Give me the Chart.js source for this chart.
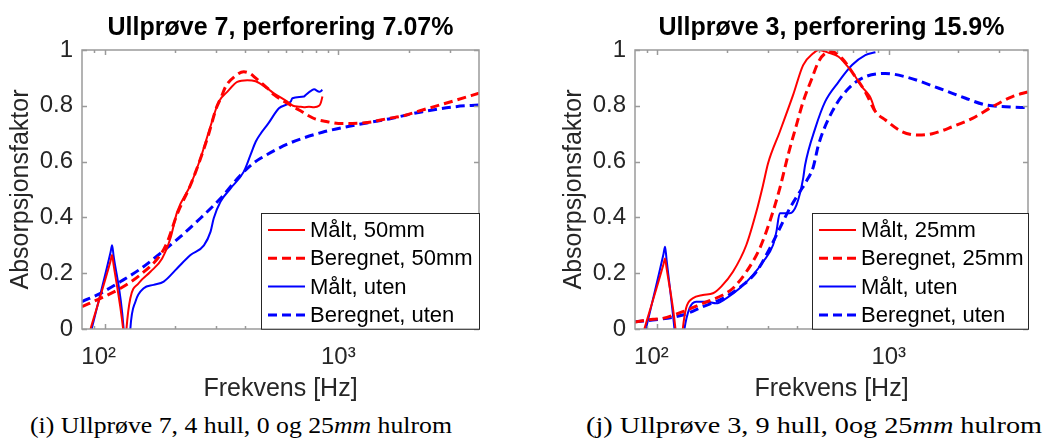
<!DOCTYPE html>
<html>
<head>
<meta charset="utf-8">
<script src="https://cdn.jsdelivr.net/npm/chart.js@4.4.0/dist/chart.umd.min.js"></script>
<style>
html, body { margin: 0; padding: 0; background: #fff; }
#wrap { position: relative; width: 1057px; height: 446px; overflow: hidden; background: #fff; }
canvas { position: absolute; top: 0; }
#c1 { left: 0; }
#c2 { left: 530px; }
.cap { position: absolute; top: 414px; font-family: "Liberation Serif", "Times New Roman", serif; font-size: 23px; line-height: 23px; color: #000; white-space: nowrap; transform-origin: 0 50%; }
#cap1 { left: 30px; }
#cap2 { left: 586px; }
</style>
</head>
<body>
<div id="wrap">
  <canvas id="c1" width="528" height="405"></canvas>
  <canvas id="c2" width="527" height="405"></canvas>
  <div class="cap" id="cap1">(i) Ullprøve 7, 4 hull, 0 og 25<i>mm</i> hulrom</div>
  <div class="cap" id="cap2">(j) Ullprøve 3, 9 hull, 0og 25<i>mm</i> hulrom</div>
</div>
<script>
// ---------- Data (frequency in Hz, absorption factor) ----------
// Left panel: Ullprøve 7, perforering 7.07%
const leftTitle = 'Ullprøve 7, perforering 7.07%';
const leftLabels = ['Målt, 50mm', 'Beregnet, 50mm', 'Målt, uten', 'Beregnet, uten'];

const leftMaalt50Freq = [87, 106, 107.6, 109.2, 120, 121.5, 123, 124, 128.8, 139.8, 157, 176.2, 191.2, 204.3, 232.9, 257.2, 279.1, 308.1, 334.6, 369.4, 407.8, 442.6, 497, 530, 605, 640, 679, 713, 749, 787, 827, 841, 855];
const leftMaalt50Val  = [0, 0.244, 0.265, 0.231, 0, -0.05, -0.05, 0, 0.11, 0.164, 0.205, 0.253, 0.325, 0.42, 0.516, 0.612, 0.707, 0.815, 0.85, 0.886, 0.892, 0.888, 0.862, 0.845, 0.815, 0.800, 0.797, 0.795, 0.797, 0.795, 0.800, 0.810, 0.833];

const leftBer50Freq = [80, 96, 117, 142, 173, 185, 204, 233, 257, 279, 300, 315, 330, 360, 394, 420, 442, 497, 530, 605, 679, 737, 800, 898, 1000, 1149, 1333, 1649, 1851, 2293, 2572, 3186, 4000];
const leftBer50Val  = [0.08, 0.11, 0.146, 0.194, 0.265, 0.31, 0.41, 0.516, 0.61, 0.70, 0.79, 0.83, 0.87, 0.905, 0.922, 0.915, 0.90, 0.863, 0.84, 0.809, 0.785, 0.767, 0.752, 0.743, 0.737, 0.737, 0.74, 0.755, 0.762, 0.785, 0.797, 0.82, 0.845];

const leftMaaltUtenFreq = [88, 106, 107.6, 109.2, 120.6, 121.5, 128, 128.8, 135.4, 147, 162, 179, 204, 233, 266, 284, 293, 313, 346, 394, 421, 443, 465, 500, 557, 625, 636, 713, 725, 775, 787, 830, 855];
const leftMaaltUtenVal  = [0, 0.275, 0.30, 0.263, 0, -0.05, -0.05, 0, 0.098, 0.146, 0.158, 0.17, 0.217, 0.265, 0.30, 0.349, 0.397, 0.456, 0.504, 0.564, 0.624, 0.671, 0.70, 0.735, 0.791, 0.815, 0.827, 0.833, 0.839, 0.857, 0.859, 0.85, 0.857];

const leftBerUtenFreq = [80, 96, 117, 142, 173, 211, 257, 313, 382, 442, 465, 615, 855, 1187, 1649, 2293, 3186, 4000];
const leftBerUtenVal  = [0.098, 0.128, 0.17, 0.215, 0.271, 0.331, 0.397, 0.468, 0.552, 0.60, 0.612, 0.665, 0.705, 0.731, 0.753, 0.779, 0.797, 0.803];

// Right panel: Ullprøve 3, perforering 15.9%
const rightTitle = 'Ullprøve 3, perforering 15.9%';
const rightLabels = ['Målt, 25mm', 'Beregnet, 25mm', 'Målt, uten', 'Beregnet, uten'];

const rightMaalt25Freq = [87.8, 106.3, 107.9, 109.5, 119.7, 121, 127, 128.7, 133, 142.2, 157.2, 173.8, 188.7, 212.1, 242.3, 267.7, 286.2, 300.9, 338.1, 386.1, 426.6, 471.5, 497, 550, 607, 650, 694, 767, 810, 833, 876];
const rightMaalt25Val  = [0, 0.233, 0.253, 0.219, 0, -0.05, -0.05, 0, 0.074, 0.11, 0.122, 0.128, 0.152, 0.205, 0.301, 0.42, 0.516, 0.594, 0.707, 0.839, 0.946, 0.988, 1.0, 0.99, 0.976, 0.95, 0.922, 0.868, 0.845, 0.83, 0.78];

const rightBer25Freq = [80, 95.7, 105.4, 128.7, 157.2, 191.9, 212.1, 242.3, 276.9, 306, 338.1, 367.3, 399, 426.6, 465.4, 497, 531, 568, 628, 717, 792, 876, 968, 1143, 1349, 1543, 1884, 2300, 2808, 3428, 4000];
const rightBer25Val  = [0.025, 0.035, 0.038, 0.062, 0.092, 0.122, 0.146, 0.205, 0.289, 0.385, 0.504, 0.624, 0.731, 0.815, 0.898, 0.958, 0.988, 0.994, 0.97, 0.904, 0.85, 0.779, 0.749, 0.707, 0.695, 0.70, 0.725, 0.755, 0.797, 0.833, 0.85];

const rightMaaltUtenFreq = [89.2, 106.3, 107.9, 109.5, 118.5, 120, 129, 130.9, 137.6, 147, 162.5, 179.6, 198.4, 226.8, 259.1, 286.2, 316.2, 326.8, 338.1, 373.6, 399, 426.6, 435, 481, 531, 607, 694, 792, 876];
const rightMaaltUtenVal  = [0, 0.27, 0.295, 0.25, 0, -0.05, -0.05, 0, 0.074, 0.098, 0.098, 0.092, 0.11, 0.146, 0.194, 0.241, 0.301, 0.349, 0.415, 0.415, 0.444, 0.54, 0.588, 0.719, 0.815, 0.886, 0.946, 0.982, 0.992];

const rightBerUtenFreq = [80, 95.4, 128.7, 157.2, 191.9, 234.4, 267.7, 306, 338.1, 373.6, 412.8, 441, 471.5, 497, 570, 671, 792, 968, 1181, 1647, 2151, 2627, 3207, 4000];
const rightBerUtenVal  = [0.026, 0.032, 0.05, 0.08, 0.11, 0.158, 0.205, 0.289, 0.361, 0.433, 0.492, 0.53, 0.58, 0.66, 0.78, 0.863, 0.904, 0.916, 0.904, 0.863, 0.827, 0.803, 0.797, 0.793];

// Axis ticks
const xMin = 80, xMax = 4000;
const xMajorTicks = [100, 1000];
const xMajorLabels = ['10²\u2002', '10³'];
const xMinorTicks = [90, 200, 300, 400, 500, 600, 700, 800, 900, 2000, 3000];
const yTicks = [0, 0.2, 0.4, 0.6, 0.8, 1];
const yTickLabels = ['0', '0.2', '0.4', '0.6', '0.8', '1'];

// ---------- Styling ----------
const FONT = '"Liberation Sans", Arial, Helvetica, sans-serif';
const RED = '#ff0000', BLUE = '#0000ff';
const AXIS_TEXT = '#262626';
const FRAME = '#9a9a9a';

function pts(f, v) { return f.map((x, i) => ({ x: x, y: v[i] })); }

const framePlugin = {
  id: 'matlabFrame',
  afterDatasetsDraw(chart) {
    const { ctx, chartArea: a, scales: { x, y } } = chart;
    ctx.save();
    ctx.strokeStyle = FRAME;
    ctx.lineWidth = 1.5;
    ctx.beginPath();
    const tick = (px, len) => {
      ctx.moveTo(px, a.bottom); ctx.lineTo(px, a.bottom - len);
      ctx.moveTo(px, a.top); ctx.lineTo(px, a.top + len);
    };
    xMajorTicks.forEach(v => tick(Math.round(x.getPixelForValue(v)) + 0.5, 5));
    xMinorTicks.forEach(v => tick(Math.round(x.getPixelForValue(v)) + 0.5, 3));
    yTicks.forEach(v => {
      const py = Math.round(y.getPixelForValue(v)) + 0.5;
      ctx.moveTo(a.left, py); ctx.lineTo(a.left + 5, py);
      ctx.moveTo(a.right, py); ctx.lineTo(a.right - 5, py);
    });
    ctx.stroke();
    ctx.strokeRect(a.left, a.top, a.right - a.left, a.bottom - a.top);
    ctx.restore();
  },
  afterDraw(chart, args, opts) {
    // legend box in the lower right of the axes
    const { ctx, chartArea: a } = chart;
    const w = opts.width, h = 115.7;
    const left = a.right - w, top = a.bottom - h;
    ctx.save();
    ctx.fillStyle = '#fff';
    ctx.fillRect(left, top, w, h);
    ctx.strokeStyle = '#262626';
    ctx.lineWidth = 1;
    ctx.strokeRect(Math.round(left) + 0.5, Math.round(top) + 0.5, w, h);
    ctx.font = '22px ' + FONT;
    ctx.textBaseline = 'middle';
    ctx.textAlign = 'left';
    chart.data.datasets.forEach((ds, i) => {
      const yy = top + 16.7 + i * 28.3;
      ctx.strokeStyle = ds.borderColor;
      ctx.lineWidth = ds.borderWidth;
      ctx.setLineDash(ds.borderDash || []);
      ctx.beginPath();
      ctx.moveTo(left + 7, yy);
      ctx.lineTo(left + 44, yy);
      ctx.stroke();
      ctx.setLineDash([]);
      ctx.fillStyle = '#000';
      ctx.fillText(ds.label, left + 49, yy + 1);
    });
    ctx.restore();
  }
};

function makeChart(id, title, labels, series, padLeft, padRight, legendWidth) {
  const datasets = series.map((s, i) => {
    const measured = (i % 2 === 0);
    return {
      label: labels[i],
      data: pts(s[0], s[1]),
      borderColor: i < 2 ? RED : BLUE,
      borderWidth: measured ? 2 : 3,
      borderDash: measured ? [] : [9, 5],
      pointRadius: 0,
      fill: false,
      cubicInterpolationMode: 'monotone'
    };
  });
  return new Chart(document.getElementById(id), {
    type: 'line',
    data: { datasets },
    plugins: [framePlugin],
    options: {
      responsive: false,
      animation: false,
      events: [],
      layout: { padding: { left: padLeft, right: padRight, top: 0, bottom: 0 } },
      plugins: {
        legend: { display: false },
        tooltip: { enabled: false },
        title: {
          display: true,
          text: title,
          fullSize: false,
          color: '#000',
          font: { family: FONT, size: 25, weight: 'bold', lineHeight: 1.2 },
          padding: { top: 13, bottom: 7 }
        },
        matlabFrame: { width: legendWidth }
      },
      scales: {
        x: {
          type: 'logarithmic',
          min: xMin, max: xMax,
          afterBuildTicks: (sc) => { sc.ticks = xMajorTicks.map(v => ({ value: v, major: true })); },
          afterFit: (sc) => { sc.height = 76; },
          grid: { display: false, drawTicks: false },
          border: { display: false },
          ticks: {
            autoSkip: false, maxRotation: 0, padding: 14,
            color: AXIS_TEXT,
            font: { family: FONT, size: 24 },
            callback: (v) => { const k = xMajorTicks.indexOf(v); return k >= 0 ? xMajorLabels[k] : null; }
          },
          title: {
            display: true, text: 'Frekvens [Hz]', color: AXIS_TEXT,
            font: { family: FONT, size: 25, lineHeight: 1.2 },
            padding: { top: 0, bottom: 1 }
          }
        },
        y: {
          min: 0, max: 1,
          afterBuildTicks: (sc) => { sc.ticks = yTicks.map(v => ({ value: v })); },
          afterFit: (sc) => { sc.width = 82; },
          grid: { display: false, drawTicks: false },
          border: { display: false },
          ticks: {
            padding: 9, color: AXIS_TEXT,
            font: { family: FONT, size: 24 },
            callback: (v) => { const k = yTicks.indexOf(v); return k >= 0 ? yTickLabels[k] : null; }
          },
          title: {
            display: true, text: 'Absorpsjonsfaktor', color: AXIS_TEXT,
            font: { family: FONT, size: 25, lineHeight: 1.2 },
            padding: { top: 6, bottom: 0 }
          }
        }
      }
    }
  });
}

makeChart('c1', leftTitle, leftLabels, [
  [leftMaalt50Freq, leftMaalt50Val],
  [leftBer50Freq, leftBer50Val],
  [leftMaaltUtenFreq, leftMaaltUtenVal],
  [leftBerUtenFreq, leftBerUtenVal]
], 0, 49, 218);

makeChart('c2', rightTitle, rightLabels, [
  [rightMaalt25Freq, rightMaalt25Val],
  [rightBer25Freq, rightBer25Val],
  [rightMaaltUtenFreq, rightMaaltUtenVal],
  [rightBerUtenFreq, rightBerUtenVal]
], 23, 29, 216);

// stretch captions horizontally to their measured widths (wide Computer Modern look)
function fitCaption(id, target) {
  const el = document.getElementById(id);
  const w = el.getBoundingClientRect().width;
  el.style.transform = 'scaleX(' + (target / w).toFixed(4) + ')';
}
fitCaption('cap1', 422);
fitCaption('cap2', 456);
</script>
</body>
</html>
